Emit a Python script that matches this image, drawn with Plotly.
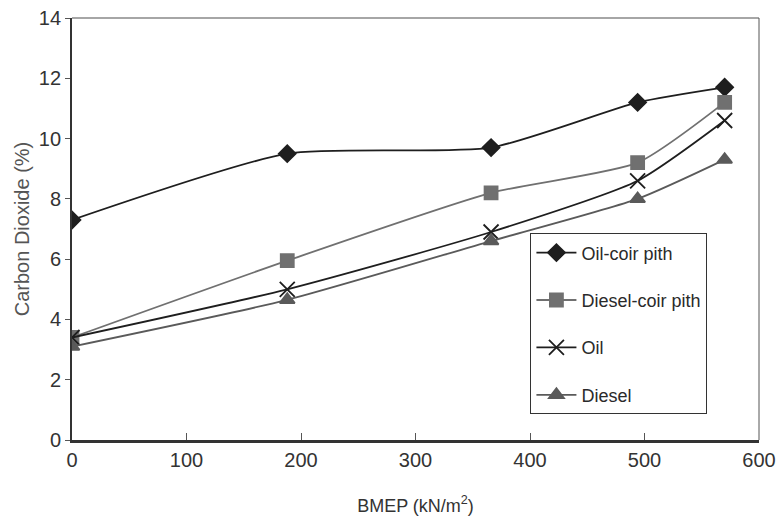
import plotly.graph_objects as go

# BMEP load points (kN/m^2)
bmep = [0, 188, 366, 494, 570]

# Carbon dioxide in exhaust (%)
oil_coir_pith = [7.3, 9.5, 9.7, 11.2, 11.7]
diesel_coir_pith = [3.4, 5.95, 8.2, 9.2, 11.2]
oil = [3.4, 5.0, 6.9, 8.6, 10.6]
diesel = [3.1, 4.65, 6.6, 8.0, 9.3]

x_ticks = [0, 100, 200, 300, 400, 500, 600]
y_ticks = [0, 2, 4, 6, 8, 10, 12, 14]

FONT = "Liberation Sans, Arial, sans-serif"

series = [
    ("Oil-coir pith", oil_coir_pith, "#1e1e1e", "diamond", 13),
    ("Diesel-coir pith", diesel_coir_pith, "#707070", "square", 13),
    ("Oil", oil, "#1e1e1e", "x-thin-open", 15),
    ("Diesel", diesel, "#5a5a5a", "triangle-up", 13),
]

fig = go.Figure()
for i, (name, vals, color, sym, size) in enumerate(series):
    fig.add_trace(go.Scatter(
        x=bmep, y=vals, name=name, mode="lines+markers",
        legendgroup=f"g{i}",
        line=dict(color=color, width=1.8, shape="spline", smoothing=0.6),
        marker=dict(symbol=sym, size=size, color=color,
                    line=dict(color=color, width=1.8)),
    ))

fig.update_layout(
    width=777, height=524,
    margin=dict(l=72, r=18, t=18, b=84, autoexpand=False),
    paper_bgcolor="white", plot_bgcolor="white",
    font=dict(family=FONT, size=19, color="#333333"),
    showlegend=True,
    legend=dict(
        x=0.667, y=0.49, xanchor="left", yanchor="top",
        bgcolor="white", bordercolor="#333333", borderwidth=1.2,
        font=dict(family=FONT, size=18, color="#2a2a2a"),
        tracegroupgap=21, itemwidth=40,
    ),
    xaxis=dict(
        range=[0, 600], tickvals=x_ticks, ticks="inside", ticklen=7,
        tickcolor="#555555", showgrid=False, zeroline=False, automargin=False,
        showline=True, linecolor="#333333", linewidth=2.5, mirror=False,
        tickfont=dict(family=FONT, size=20, color="#333333"),
        title=dict(text="BMEP (kN/m<sup>2</sup>)", standoff=30,
                   font=dict(family=FONT, size=18, color="#333333")),
    ),
    yaxis=dict(
        range=[0, 14], tickvals=y_ticks, ticks="outside", ticklen=5,
        tickcolor="#555555", showgrid=False, zeroline=False, automargin=False,
        showline=True, linecolor="#333333", linewidth=1.8, mirror=False,
        tickfont=dict(family=FONT, size=20, color="#333333"),
        title=dict(text="Carbon Dioxide (%)", standoff=4,
                   font=dict(family=FONT, size=20, color="#555555")),
    ),
)

# Thin frame along the top and right edges of the plotting area
fig.add_shape(type="line", xref="paper", yref="paper", x0=0, x1=1, y0=1, y1=1,
              line=dict(color="#888888", width=1.5))
fig.add_shape(type="line", xref="paper", yref="paper", x0=1, x1=1, y0=0, y1=1,
              line=dict(color="#555555", width=1))

fig.write_html("out.html")
